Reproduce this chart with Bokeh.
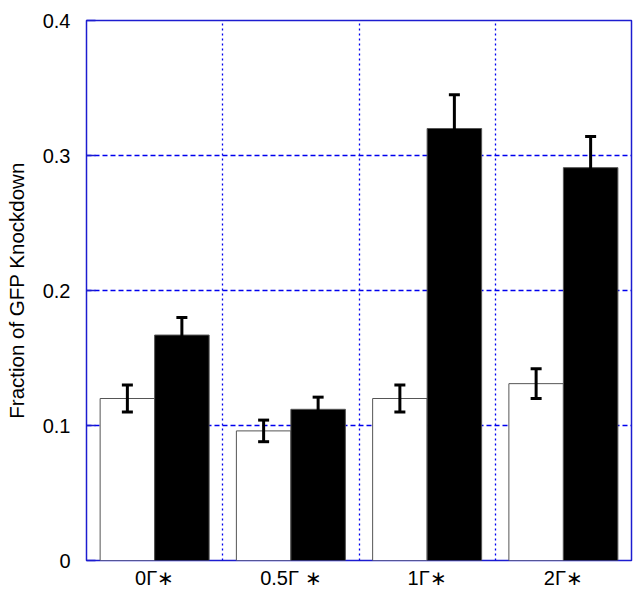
from bokeh.plotting import figure
from bokeh.models import Range1d, FixedTicker, ColumnDataSource, Whisker, TeeHead
from bokeh.embed import file_html
from bokeh.resources import INLINE

categories = ["0Γ∗", "0.5Γ ∗", "1Γ∗", "2Γ∗"]
white_vals = [0.120, 0.096, 0.120, 0.131]
white_err = [0.010, 0.008, 0.010, 0.011]
black_vals = [0.167, 0.112, 0.320, 0.291]
black_err = [0.013, 0.009, 0.025, 0.023]
y_ticks = [0, 0.1, 0.2, 0.3, 0.4]
y_tick_labels = ["0", "0.1", "0.2", "0.3", "0.4"]

FONT = "Liberation Sans"
BLUE = "#1c1cd0"

p = figure(width=634, height=591, output_backend="svg", toolbar_location=None,
           x_range=Range1d(0, len(categories)), y_range=Range1d(0, 0.4),
           min_border_left=86, min_border_top=20, min_border_right=3, min_border_bottom=27)

p.outline_line_color = BLUE
p.outline_line_width = 1.5
p.background_fill_color = "white"
p.border_fill_color = "white"

idx = list(range(len(categories)))
wsrc = ColumnDataSource(dict(x=[i + 0.3 for i in idx], top=white_vals,
                             up=[v + e for v, e in zip(white_vals, white_err)],
                             lo=[v - e for v, e in zip(white_vals, white_err)]))
bsrc = ColumnDataSource(dict(x=[i + 0.7 for i in idx], top=black_vals,
                             up=[v + e for v, e in zip(black_vals, black_err)],
                             lo=[v - e for v, e in zip(black_vals, black_err)]))

p.vbar(x="x", top="top", width=0.4, bottom=0, source=wsrc, fill_color="white",
       line_color="#555555", line_width=1)
p.vbar(x="x", top="top", width=0.4, bottom=0, source=bsrc, fill_color="black",
       line_color="#555555", line_width=1)

for src in (wsrc, bsrc):
    w = Whisker(base="x", upper="up", lower="lo", source=src, line_color="black", line_width=3,
                level="overlay",
                upper_head=TeeHead(size=11, line_width=3, line_color="black"),
                lower_head=TeeHead(size=11, line_width=3, line_color="black"))
    p.add_layout(w)

# grids
p.xgrid.ticker = FixedTicker(ticks=[1, 2, 3])
p.xgrid.grid_line_color = "#0000ee"
p.xgrid.grid_line_dash = "2 3"
p.xgrid.grid_line_width = 1.3
p.ygrid.ticker = FixedTicker(ticks=[0.1, 0.2, 0.3])
p.ygrid.grid_line_color = "#0000ee"
p.ygrid.grid_line_dash = "5 3"
p.ygrid.grid_line_width = 1.3

# y axis
p.yaxis.ticker = FixedTicker(ticks=y_ticks)
p.yaxis.major_label_overrides = {t: l for t, l in zip(y_ticks, y_tick_labels)}
p.yaxis.axis_line_color = None
p.yaxis.major_tick_in = 9
p.yaxis.major_tick_out = 0
p.yaxis.major_tick_line_color = BLUE
p.yaxis.major_tick_line_width = 1.5
p.yaxis.minor_tick_line_color = None
p.yaxis.major_label_standoff = 16
p.yaxis.major_label_text_font = FONT
p.yaxis.major_label_text_font_size = "20px"
p.yaxis.major_label_text_color = "black"
p.yaxis.axis_label = "Fraction of GFP Knockdown"
p.yaxis.axis_label_text_font = FONT
p.yaxis.axis_label_text_font_size = "20.5px"
p.yaxis.axis_label_text_font_style = "normal"
p.yaxis.axis_label_text_color = "black"
p.yaxis.axis_label_standoff = 12

# x axis
xt = [i + 0.5 for i in idx]
p.xaxis.ticker = FixedTicker(ticks=xt)
p.xaxis.major_label_overrides = {t: c for t, c in zip(xt, categories)}
p.xaxis.axis_line_color = None
p.xaxis.major_tick_line_color = None
p.xaxis.minor_tick_line_color = None
p.xaxis.major_tick_out = 0
p.xaxis.major_tick_in = 0
p.xaxis.major_label_standoff = 6
p.xaxis.major_label_text_font = FONT
p.xaxis.major_label_text_font_size = "20px"
p.xaxis.major_label_text_color = "black"

open("out.html", "w").write(file_html(p, INLINE))
